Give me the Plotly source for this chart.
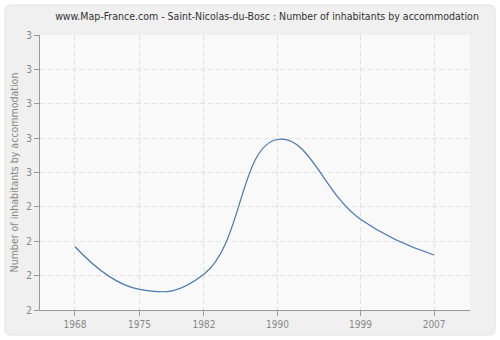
import plotly.graph_objects as go

years = [1968, 1975, 1982, 1990, 1999, 2007]
values = [2.23, 2.075, 2.13, 2.62, 2.33, 2.20]
y_tickvals = [2.0, 2.125, 2.25, 2.375, 2.5, 2.625, 2.75, 2.875, 3.0]
y_ticktext = ["2", "2", "2", "2", "3", "3", "3", "3", "3"]
x_tickvals = years

FONT = "DejaVu Sans Condensed, DejaVu Sans, sans-serif"

fig = go.Figure()
fig.add_trace(go.Scatter(
    x=years, y=values, mode="lines",
    line=dict(color="#4a78b0", width=1.2, shape="spline", smoothing=1.3),
    hoverinfo="x+y", showlegend=False,
))

W, H = 500, 340
l, r, t, b = 40, 30, 35, 30
pw, ph = W - l - r, H - t - b
def px(x):
    return (x - l) / pw
def py(y):
    return (H - b - y) / ph
x0, x1, y0, y1, rad = 5, 495, 5, 335, 6
path = (f"M {px(x0+rad)},{py(y0)} L {px(x1-rad)},{py(y0)} "
        f"Q {px(x1)},{py(y0)} {px(x1)},{py(y0+rad)} "
        f"L {px(x1)},{py(y1-rad)} Q {px(x1)},{py(y1)} {px(x1-rad)},{py(y1)} "
        f"L {px(x0+rad)},{py(y1)} Q {px(x0)},{py(y1)} {px(x0)},{py(y1-rad)} "
        f"L {px(x0)},{py(y0+rad)} Q {px(x0)},{py(y0)} {px(x0+rad)},{py(y0)} Z")

fig.update_layout(
    width=W, height=H,
    margin=dict(l=l, r=r, t=t, b=b, autoexpand=False),
    paper_bgcolor="#ffffff",
    plot_bgcolor="#f9f9f9",
    font=dict(family=FONT, size=10, color="#888888"),
    title=dict(
        text="www.Map-France.com - Saint-Nicolas-du-Bosc : Number of inhabitants by accommodation",
        x=0.534, xanchor="center", y=0.951, yanchor="middle",
        font=dict(family=FONT, size=10.5, color="#333333"),
    ),
    shapes=[
        dict(type="path", xref="paper", yref="paper", path=path,
             fillcolor="#f0f0f0", line=dict(color="#e2e2e2", width=1), layer="below"),
        dict(type="rect", xref="paper", yref="paper", x0=0, x1=1, y0=0, y1=1,
             fillcolor="#f9f9f9", line=dict(width=0), layer="below"),
    ],
)

fig.update_xaxes(
    range=[1964.2, 2010.9], tickvals=x_tickvals, ticktext=[str(v) for v in x_tickvals],
    showgrid=True, gridcolor="#e3e3e3", griddash="5px,3px", gridwidth=1,
    showline=True, linecolor="#999999", linewidth=1, automargin=False,
    ticks="outside", ticklen=5, tickcolor="#999999", zeroline=False,
)
fig.update_yaxes(
    range=[2.0, 3.0], tickvals=y_tickvals, ticktext=y_ticktext,
    showgrid=True, gridcolor="#e3e3e3", griddash="5px,3px", gridwidth=1,
    showline=True, linecolor="#999999", linewidth=1, automargin=False,
    ticks="outside", ticklen=5, tickcolor="#999999", zeroline=False,
    title=dict(text="Number of inhabitants by accommodation", standoff=5,
               font=dict(family=FONT, size=10.5, color="#888888")),
)

fig.write_html("out.html")
